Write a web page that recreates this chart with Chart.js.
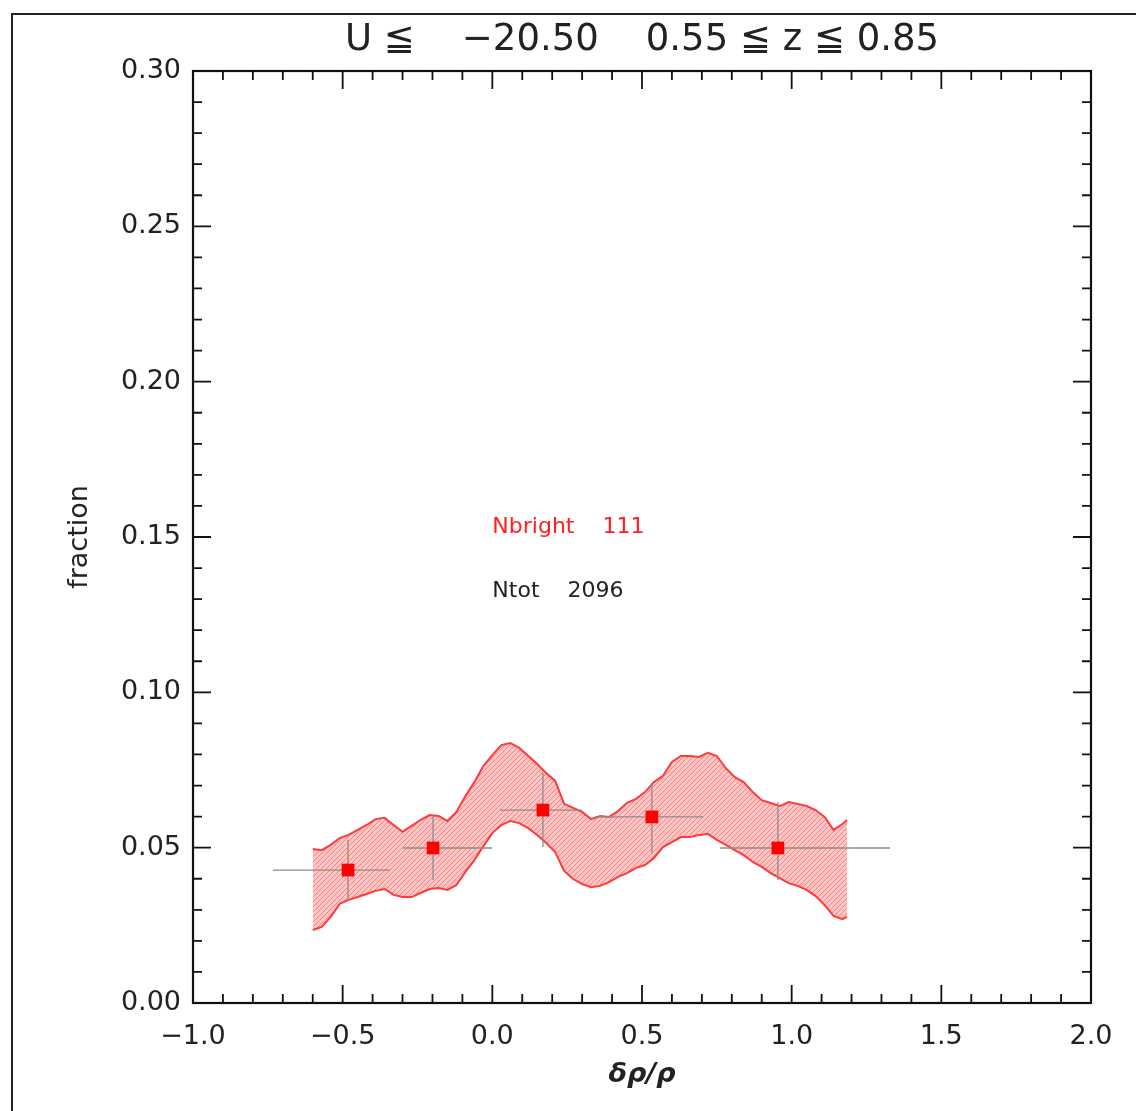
<!DOCTYPE html>
<html lang="en">
<head>
    <meta charset="UTF-8">
    <title>fraction vs density contrast</title>
    <script src="https://cdn.jsdelivr.net/npm/chart.js"></script>
    <style>
        body { margin: 0; background: #fff; }
    </style>
</head>
<body>
    <canvas id="fracChart" width="1136" height="1111"></canvas>
    <script>
        // binned bright fraction with errors
        const binX = [-0.482, -0.198, 0.169, 0.533, 0.954];
        const binY = [0.0428, 0.0499, 0.0621, 0.0599, 0.0499];
        const binXLo = [-0.733, -0.298, 0.026, 0.343, 0.761];
        const binXHi = [-0.342, -0.001, 0.300, 0.704, 1.329];
        const binYLo = [0.0332, 0.0396, 0.0502, 0.0483, 0.0396];
        const binYHi = [0.0525, 0.0605, 0.0740, 0.0708, 0.0647];

        // running-median band
        const bandX = [-0.60, -0.57, -0.54, -0.51, -0.48, -0.45, -0.42, -0.39, -0.36, -0.33,
                       -0.30, -0.27, -0.24, -0.21, -0.18, -0.15, -0.12, -0.09, -0.06, -0.03,
                        0.00,  0.03,  0.06,  0.09,  0.12,  0.15,  0.18,  0.21,  0.24,  0.27,
                        0.30,  0.33,  0.36,  0.39,  0.42,  0.45,  0.48,  0.51,  0.54,  0.57,
                        0.60,  0.63,  0.66,  0.69,  0.72,  0.75,  0.78,  0.81,  0.84,  0.87,
                        0.90,  0.93,  0.96,  0.99,  1.02,  1.05,  1.08,  1.11,  1.14,  1.17, 1.185];
        const bandHi = [0.0496, 0.0492, 0.0509, 0.0531, 0.0541, 0.0557, 0.0573, 0.0592, 0.0596, 0.0573,
                        0.0551, 0.0570, 0.0589, 0.0605, 0.0602, 0.0586, 0.0615, 0.0666, 0.0711, 0.0763,
                        0.0798, 0.0830, 0.0837, 0.0821, 0.0795, 0.0769, 0.0740, 0.0715, 0.0641, 0.0628,
                        0.0615, 0.0592, 0.0602, 0.0599, 0.0618, 0.0644, 0.0657, 0.0679, 0.0711, 0.0731,
                        0.0776, 0.0795, 0.0795, 0.0792, 0.0805, 0.0795, 0.0756, 0.0727, 0.0711, 0.0679,
                        0.0653, 0.0644, 0.0634, 0.0647, 0.0641, 0.0634, 0.0621, 0.0599, 0.0557, 0.0576, 0.0589];
        const bandLo = [0.0235, 0.0245, 0.0277, 0.0319, 0.0332, 0.0341, 0.0351, 0.0361, 0.0367, 0.0348,
                        0.0341, 0.0341, 0.0354, 0.0367, 0.0370, 0.0364, 0.0380, 0.0422, 0.0460, 0.0505,
                        0.0547, 0.0573, 0.0586, 0.0579, 0.0563, 0.0541, 0.0515, 0.0486, 0.0425, 0.0399,
                        0.0383, 0.0373, 0.0377, 0.0389, 0.0406, 0.0418, 0.0435, 0.0444, 0.0467, 0.0502,
                        0.0518, 0.0534, 0.0534, 0.0541, 0.0544, 0.0525, 0.0509, 0.0492, 0.0476, 0.0454,
                        0.0438, 0.0418, 0.0402, 0.0386, 0.0377, 0.0364, 0.0344, 0.0315, 0.0280, 0.0270, 0.0277];

        // counts written inside the plot
        const noteText = ['Nbright    111', 'Ntot    2096'];
        const noteX = [0.0, 0.0];
        const noteY = [0.153, 0.1326];
        const noteColor = ['#ff2020', '#222'];

        const titleText = 'U \u2266    \u221220.50    0.55 \u2266 z \u2266 0.85';
        const FONT = "'DejaVu Sans', sans-serif";

        // pink hatch for the band
        function hatch() {
            const c = document.createElement('canvas');
            c.width = 5; c.height = 5;
            const g = c.getContext('2d');
            g.fillStyle = '#ffc6c6';
            g.fillRect(0, 0, 5, 5);
            g.strokeStyle = 'rgba(255,95,95,0.7)';
            g.lineWidth = 1;
            g.beginPath();
            g.moveTo(-1, 6); g.lineTo(6, -1);
            g.moveTo(-1, 1); g.lineTo(1, -1);
            g.moveTo(4, 6); g.lineTo(6, 4);
            g.stroke();
            return g.createPattern(c, 'repeat');
        }

        const pts = (xs, ys) => xs.map((x, i) => ({ x: x, y: ys[i] }));

        const extras = {
            id: 'extras',
            afterDatasetDraw(chart, args) {
                if (args.index !== 1) return;
                // error bars, under the markers
                const ctx = chart.ctx, xs = chart.scales.x, ys = chart.scales.y;
                ctx.save();
                ctx.strokeStyle = '#8c8c8c';
                ctx.lineWidth = 1.3;
                ctx.beginPath();
                for (let i = 0; i < binX.length; i++) {
                    const px = xs.getPixelForValue(binX[i]), py = ys.getPixelForValue(binY[i]);
                    ctx.moveTo(xs.getPixelForValue(binXLo[i]), py);
                    ctx.lineTo(xs.getPixelForValue(binXHi[i]), py);
                    ctx.moveTo(px, ys.getPixelForValue(binYLo[i]));
                    ctx.lineTo(px, ys.getPixelForValue(binYHi[i]));
                }
                ctx.stroke();
                ctx.restore();
            },
            afterDraw(chart) {
                const ctx = chart.ctx, a = chart.chartArea;
                const xs = chart.scales.x, ys = chart.scales.y;
                ctx.save();
                // outer frame
                ctx.strokeStyle = '#222';
                ctx.lineWidth = 2;
                ctx.beginPath();
                ctx.moveTo(12, 1111); ctx.lineTo(12, 14); ctx.lineTo(1136, 14);
                ctx.stroke();
                // plot box
                ctx.strokeStyle = '#111';
                ctx.lineWidth = 2.2;
                ctx.strokeRect(a.left, a.top, a.right - a.left, a.bottom - a.top);
                // inward ticks
                ctx.lineWidth = 1.8;
                ctx.beginPath();
                for (let k = -10; k <= 20; k++) {
                    const px = xs.getPixelForValue(k / 10);
                    const len = k % 5 === 0 ? 18 : 9;
                    ctx.moveTo(px, a.bottom); ctx.lineTo(px, a.bottom - len);
                    ctx.moveTo(px, a.top); ctx.lineTo(px, a.top + len);
                }
                for (let k = 0; k <= 30; k++) {
                    const py = ys.getPixelForValue(k / 100);
                    const len = k % 5 === 0 ? 18 : 9;
                    ctx.moveTo(a.left, py); ctx.lineTo(a.left + len, py);
                    ctx.moveTo(a.right, py); ctx.lineTo(a.right - len, py);
                }
                ctx.stroke();
                // count notes
                ctx.font = '22px ' + FONT;
                ctx.textBaseline = 'middle';
                ctx.textAlign = 'left';
                noteText.forEach((t, i) => {
                    ctx.fillStyle = noteColor[i];
                    ctx.fillText(t, xs.getPixelForValue(noteX[i]), ys.getPixelForValue(noteY[i]));
                });
                ctx.restore();
            }
        };

        new Chart(document.getElementById('fracChart'), {
            type: 'scatter',
            data: {
                datasets: [{
                    label: 'bins',
                    data: pts(binX, binY),
                    pointStyle: 'rect',
                    pointRadius: 9,
                    pointBackgroundColor: '#ff0000',
                    pointBorderWidth: 0,
                    showLine: false
                }, {
                    label: 'upper',
                    data: pts(bandX, bandHi),
                    showLine: true,
                    pointRadius: 0,
                    borderColor: '#ff3a3a',
                    borderWidth: 2,
                    tension: 0,
                    fill: false
                }, {
                    label: 'lower',
                    data: pts(bandX, bandLo),
                    showLine: true,
                    pointRadius: 0,
                    borderColor: '#ff3a3a',
                    borderWidth: 2,
                    tension: 0,
                    backgroundColor: hatch(),
                    fill: '-1'
                }]
            },
            options: {
                responsive: false,
                animation: false,
                layout: { padding: { left: 0, right: 45, top: 0, bottom: 0 } },
                plugins: {
                    legend: { display: false },
                    tooltip: { enabled: false },
                    title: {
                        display: true,
                        fullSize: false,
                        text: titleText,
                        color: '#222',
                        font: { family: FONT, size: 37, weight: 'normal' },
                        padding: { top: 18, bottom: 8.6 }
                    }
                },
                scales: {
                    x: {
                        type: 'linear',
                        min: -1, max: 2,
                        afterFit: s => { s.height = 108; },
                        grid: { display: false, drawTicks: false, tickLength: 0 },
                        border: { display: false },
                        ticks: {
                            stepSize: 0.5,
                            padding: 18,
                            color: '#222',
                            font: { family: FONT, size: 27 },
                            callback: v => v.toFixed(1).replace('-', '\u2212')
                        },
                        title: {
                            display: true,
                            text: '\u03b4\u03c1/\u03c1',
                            color: '#222',
                            font: { family: FONT, size: 27, weight: 'bold', style: 'italic' },
                            padding: { top: 0, bottom: 20 }
                        }
                    },
                    y: {
                        min: 0, max: 0.30,
                        afterFit: s => { s.width = 193; },
                        grid: { display: false, drawTicks: false, tickLength: 0 },
                        border: { display: false },
                        ticks: {
                            stepSize: 0.05,
                            padding: 12,
                            color: '#222',
                            font: { family: FONT, size: 27 },
                            callback: v => v.toFixed(2)
                        },
                        title: {
                            display: true,
                            text: 'fraction',
                            color: '#222',
                            font: { family: FONT, size: 27 },
                            padding: { top: 64, bottom: 0 }
                        }
                    }
                }
            },
            plugins: [extras]
        });
    </script>
</body>
</html>
